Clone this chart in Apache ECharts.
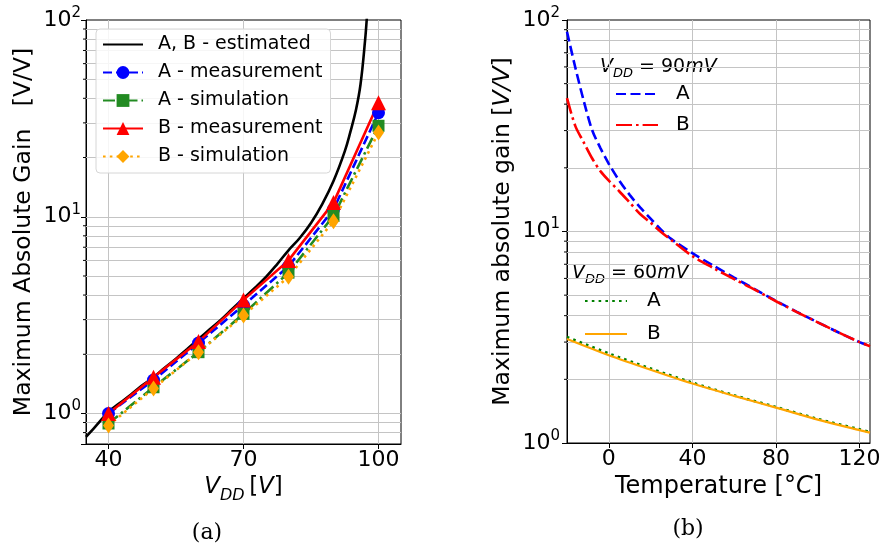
<!DOCTYPE html>
<html><head><meta charset="utf-8">
<script src="https://cdn.jsdelivr.net/npm/echarts@6/dist/echarts.min.js"></script>
<style>html,body{margin:0;padding:0;background:#fff}#c{width:884px;height:550px}</style>
</head><body><div id="c"></div>
<script>
// ---------- data: left panel (a) ----------
const vdd = [40, 50, 60, 70, 80, 90, 100];
const aMeas = [1.0, 1.48, 2.28, 3.55, 5.6, 10.9, 33.8];
const aSim  = [0.89, 1.36, 2.05, 3.21, 5.2, 10.1, 29.0];
const bMeas = [1.0, 1.53, 2.32, 3.78, 6.0, 11.8, 38.0];
const bSim  = [0.87, 1.34, 2.05, 3.15, 4.95, 9.5, 26.8];
const vddEst = [35, 37.5, 40, 42.5, 45, 47.5, 50, 52.5, 55, 57.5, 60, 62.5, 65, 67.5, 70, 72.5, 75, 77.5, 80, 82.5, 85, 87.5, 90, 92.5, 93.75, 95, 96, 97, 97.5];
const est    = [0.76, 0.88, 1.02, 1.13, 1.25, 1.39, 1.53, 1.71, 1.9, 2.13, 2.39, 2.68, 3.0, 3.4, 3.85, 4.35, 4.95, 5.75, 6.75, 7.8, 9.3, 11.6, 15.2, 21.5, 27.0, 35.0, 47.0, 78.0, 110.0];
const vddTicks = [40, 70, 100];
const vddLegend = ['A, B - estimated', 'A - measurement', 'A - simulation', 'B - measurement', 'B - simulation'];

// ---------- data: right panel (b) ----------
const temp = [-20, -16, -12, -8, -4, 0, 5, 10, 15, 20, 25, 30, 40, 50, 60, 70, 80, 90, 100, 110, 120, 125];
const a90  = [88, 59.5, 41.5, 30.2, 24.8, 20.9, 17.4, 14.9, 13.0, 11.5, 10.2, 9.2, 7.9, 6.9, 6.05, 5.33, 4.7, 4.17, 3.72, 3.33, 3.0, 2.87];
const b90  = [42.7, 31.5, 26.4, 22.2, 19.3, 17.4, 15.5, 13.7, 12.1, 11.0, 9.95, 9.1, 7.65, 6.72, 5.95, 5.3, 4.68, 4.16, 3.72, 3.33, 3.0, 2.87];
const temp60 = [-20, 0, 20, 40, 60, 80, 100, 120, 125];
const a60  = [3.17, 2.65, 2.25, 1.93, 1.68, 1.48, 1.3, 1.16, 1.125];
const b60  = [3.1, 2.6, 2.22, 1.91, 1.67, 1.47, 1.29, 1.15, 1.12];
const tempTicks = [0, 40, 80, 120];

// grid line / minor tick values (log axes)
const minorLeft  = [0.8, 0.9, 2, 3, 4, 5, 6, 7, 8, 9, 20, 30, 40, 50, 60, 70, 80, 90];
const majorLeft  = [1, 10];
const minorRight = [2, 3, 4, 5, 6, 7, 8, 9, 20, 30, 40, 50, 60, 70, 80, 90];
const majorRight = [10];

const F = 'DejaVu Sans';
const zip = (xs, ys) => xs.map((x, i) => [x, ys[i]]);

const tickRich = {
  b: {fontSize: 22, fontFamily: F, color: '#000', lineHeight: 29},
  sup: {fontSize: 15, fontFamily: F, color: '#000', verticalAlign: 'top', lineHeight: 15}
};
const logFmt = v => {
  const l = Math.log10(v);
  if (Math.abs(l - Math.round(l)) > 1e-6) return '';
  return '{b|10}{sup|' + Math.round(l) + '}';
};

function gridSeries(xi, minor, major, vt) {
  return {
    type: 'line', xAxisIndex: xi, yAxisIndex: xi, data: [], silent: true, z: 1,
    markLine: {
      silent: true, symbol: ['none', 'none'], label: {show: false}, animation: false, z: 1,
      lineStyle: {color: '#c4c4c4', width: 1, type: 'solid'},
      emphasis: {disabled: true},
      data: minor.concat(major).map(v => ({yAxis: v})).concat(vt.map(v => ({xAxis: v})))
    }
  };
}
function minorTickSeries(xi, xmin, vals) {
  return {
    type: 'custom', xAxisIndex: xi, yAxisIndex: xi, silent: true, clip: false, z: 4,
    data: vals.map(v => [xmin, v]),
    renderItem: (p, api) => {
      const c = api.coord([api.value(0), api.value(1)]);
      return {type: 'line', shape: {x1: c[0] - 3, y1: c[1], x2: c[0], y2: c[1]}, style: {stroke: '#000', lineWidth: 1}};
    }
  };
}

const lineBase = {animation: false, z: 3, emphasis: {disabled: true}};
const noSym = {opacity: 0};

const option = {
  animation: false,
  backgroundColor: '#fff',
  grid: [
    {left: 86, top: 20, width: 315, height: 424, show: true, borderColor: '#000', borderWidth: 1, backgroundColor: 'transparent'},
    {left: 567, top: 20, width: 303, height: 423, show: true, borderColor: '#000', borderWidth: 1, backgroundColor: 'transparent'}
  ],
  xAxis: [
    {
      gridIndex: 0, type: 'value', min: 35, max: 105,
      axisLine: {show: true, onZero: false, lineStyle: {color: '#000', width: 1}},
      axisTick: {show: true, length: 5, customValues: vddTicks, lineStyle: {color: '#000'}},
      axisLabel: {customValues: vddTicks, fontSize: 22, fontFamily: F, color: '#000', margin: 5},
      splitLine: {show: false},
      name: '{it|V}{sub|DD}\u2009[{it|V}]', nameLocation: 'middle', nameGap: 26,
      nameTextStyle: {fontSize: 23, fontFamily: F, color: '#000', rich: {
        it: {fontSize: 23, fontFamily: F, fontStyle: 'italic', color: '#000'},
        sub: {fontSize: 16, fontFamily: F, fontStyle: 'italic', color: '#000', verticalAlign: 'bottom', padding: [0, 0, -5, 0]}
      }}
    },
    {
      gridIndex: 1, type: 'value', min: -20, max: 125,
      axisLine: {show: true, onZero: false, lineStyle: {color: '#000', width: 1}},
      axisTick: {show: true, length: 5, customValues: tempTicks, lineStyle: {color: '#000'}},
      axisLabel: {customValues: tempTicks, fontSize: 22, fontFamily: F, color: '#000', margin: 5},
      splitLine: {show: false},
      name: 'Temperature [°{it|C}]', nameLocation: 'middle', nameGap: 26,
      nameTextStyle: {fontSize: 24, fontFamily: F, color: '#000', rich: {
        it: {fontSize: 24, fontFamily: F, fontStyle: 'italic', color: '#000'}
      }}
    }
  ],
  yAxis: [
    {
      gridIndex: 0, type: 'log', logBase: 10, min: 0.7, max: 100,
      axisLine: {show: true, onZero: false, lineStyle: {color: '#000', width: 1}},
      axisTick: {show: true, length: 5, lineStyle: {color: '#000'}},
      axisLabel: {formatter: logFmt, rich: tickRich, margin: 5},
      splitLine: {show: false},
      name: 'Maximum Absolute Gain   [V/V]', nameLocation: 'middle', nameGap: 50,
      nameTextStyle: {fontSize: 23.5, fontFamily: F, color: '#000'}
    },
    {
      gridIndex: 1, type: 'log', logBase: 10, min: 1, max: 100,
      axisLine: {show: true, onZero: false, lineStyle: {color: '#000', width: 1}},
      axisTick: {show: true, length: 5, lineStyle: {color: '#000'}},
      axisLabel: {formatter: logFmt, rich: tickRich, margin: 7},
      splitLine: {show: false},
      name: 'Maximum absolute gain [{it|V/V}]', nameLocation: 'middle', nameGap: 52,
      nameTextStyle: {fontSize: 23.5, fontFamily: F, color: '#000', rich: {
        it: {fontSize: 23.5, fontFamily: F, fontStyle: 'italic', color: '#000'}
      }}
    }
  ],
  legend: [
    {
      data: [
        {name: vddLegend[0], itemStyle: noSym},
        vddLegend[1], vddLegend[2], vddLegend[3], vddLegend[4]
      ],
      orient: 'vertical', left: 96, top: 29,
      itemWidth: 40, itemHeight: 16, itemGap: 9, selectedMode: false,
      backgroundColor: 'rgba(255,255,255,0.85)', borderColor: '#d6d6d6', borderWidth: 1, borderRadius: 4,
      padding: [6, 8, 7, 6],
      textStyle: {fontFamily: F, fontSize: 19, color: '#000', padding: [0, 0, 0, 10]}
    },
    {
      data: [{name: 'A@90', itemStyle: noSym}, {name: 'B@90', itemStyle: noSym}],
      orient: 'vertical', left: 615, top: 84,
      itemWidth: 42, itemHeight: 14, itemGap: 11, selectedMode: false, padding: 0,
      formatter: n => n.split('@')[0],
      textStyle: {fontFamily: F, fontSize: 20, color: '#000', padding: [0, 0, 0, 13]}
    },
    {
      data: [{name: 'A@60', itemStyle: noSym}, {name: 'B@60', itemStyle: noSym}],
      orient: 'vertical', left: 584, top: 291,
      itemWidth: 42, itemHeight: 14, itemGap: 13, selectedMode: false, padding: 0,
      formatter: n => n.split('@')[0],
      textStyle: {fontFamily: F, fontSize: 20, color: '#000', padding: [0, 0, 0, 15]}
    }
  ],
  graphic: [
    {type: 'text', x: 600, y: 67, silent: true, style: {
      text: '{i|V}{s|DD}{n| = 90}{i|mV}', verticalAlign: 'middle', align: 'left',
      rich: {
        i: {fontSize: 19, fontFamily: F, fontStyle: 'italic', fill: '#000'},
        s: {fontSize: 13, fontFamily: F, fontStyle: 'italic', fill: '#000', verticalAlign: 'bottom', padding: [0, 0, -4, 0]},
        n: {fontSize: 19, fontFamily: F, fill: '#000'}
      }}},
    {type: 'text', x: 572, y: 273, silent: true, style: {
      text: '{i|V}{s|DD}{n| = 60}{i|mV}', verticalAlign: 'middle', align: 'left',
      rich: {
        i: {fontSize: 19, fontFamily: F, fontStyle: 'italic', fill: '#000'},
        s: {fontSize: 13, fontFamily: F, fontStyle: 'italic', fill: '#000', verticalAlign: 'bottom', padding: [0, 0, -4, 0]},
        n: {fontSize: 19, fontFamily: F, fill: '#000'}
      }}},
    {type: 'text', x: 207, y: 533, silent: true, style: {text: '(a)', font: '22px "DejaVu Serif"', fill: '#000', align: 'center', verticalAlign: 'middle'}},
    {type: 'text', x: 688, y: 529, silent: true, style: {text: '(b)', font: '22px "DejaVu Serif"', fill: '#000', align: 'center', verticalAlign: 'middle'}}
  ],
  series: [
    gridSeries(0, minorLeft, majorLeft, vddTicks),
    gridSeries(1, minorRight, majorRight, tempTicks),
    minorTickSeries(0, 35, minorLeft),
    minorTickSeries(1, -20, minorRight),
    Object.assign({}, lineBase, {
      name: 'A, B - estimated', type: 'line', xAxisIndex: 0, yAxisIndex: 0,
      data: zip(vddEst, est), symbol: 'none', smooth: 0.4,
      lineStyle: {color: '#000', width: 2.6}, itemStyle: {color: '#000'}
    }),
    Object.assign({}, lineBase, {
      name: 'A - measurement', type: 'line', xAxisIndex: 0, yAxisIndex: 0,
      data: zip(vdd, aMeas), symbol: 'circle', symbolSize: 13,
      lineStyle: {color: '#0000ff', width: 2.6, type: [9, 4]}, itemStyle: {color: '#0000ff'}
    }),
    Object.assign({}, lineBase, {
      name: 'A - simulation', type: 'line', xAxisIndex: 0, yAxisIndex: 0,
      data: zip(vdd, aSim), symbol: 'rect', symbolSize: 12,
      lineStyle: {color: '#228b22', width: 2.6, type: [12, 4, 2.5, 4]}, itemStyle: {color: '#228b22'}
    }),
    Object.assign({}, lineBase, {
      name: 'B - measurement', type: 'line', xAxisIndex: 0, yAxisIndex: 0,
      data: zip(vdd, bMeas), symbol: 'triangle', symbolSize: 15,
      lineStyle: {color: '#ff0000', width: 2.6}, itemStyle: {color: '#ff0000'}
    }),
    Object.assign({}, lineBase, {
      name: 'B - simulation', type: 'line', xAxisIndex: 0, yAxisIndex: 0,
      data: zip(vdd, bSim), symbol: 'diamond', symbolSize: [11, 16],
      lineStyle: {color: '#ffa500', width: 2.6, type: [2.6, 4.2]}, itemStyle: {color: '#ffa500'}
    }),
    Object.assign({}, lineBase, {
      name: 'A@90', type: 'line', xAxisIndex: 1, yAxisIndex: 1,
      data: zip(temp, a90), symbol: 'none', smooth: 0.3,
      lineStyle: {color: '#0000ff', width: 2.6, type: [10, 4.5]}, itemStyle: {color: '#0000ff'}
    }),
    Object.assign({}, lineBase, {
      name: 'B@90', type: 'line', xAxisIndex: 1, yAxisIndex: 1,
      data: zip(temp, b90), symbol: 'none', smooth: 0.3,
      lineStyle: {color: '#ff0000', width: 2.6, type: [16, 4, 2.6, 4]}, itemStyle: {color: '#ff0000'}
    }),
    Object.assign({}, lineBase, {
      name: 'A@60', type: 'line', xAxisIndex: 1, yAxisIndex: 1,
      data: zip(temp60, a60), symbol: 'none', smooth: 0.3,
      lineStyle: {color: '#008000', width: 2.6, type: [2.6, 4.2]}, itemStyle: {color: '#008000'}
    }),
    Object.assign({}, lineBase, {
      name: 'B@60', type: 'line', xAxisIndex: 1, yAxisIndex: 1,
      data: zip(temp60, b60), symbol: 'none', smooth: 0.3,
      lineStyle: {color: '#ffa500', width: 2.2}, itemStyle: {color: '#ffa500'}
    })
  ]
};

const chart = echarts.init(document.getElementById('c'), null, {renderer: 'canvas'});
chart.setOption(option);
</script>
</body></html>
